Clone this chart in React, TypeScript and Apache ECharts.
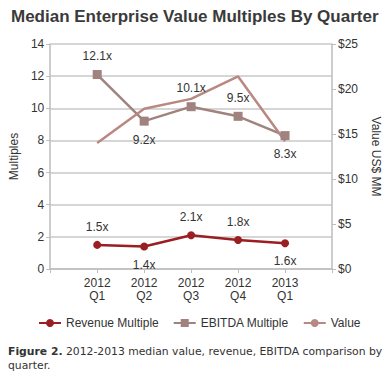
import React, { useEffect, useRef } from "react";
import * as echarts from "echarts";

const categories = ["", "2012\nQ1", "2012\nQ2", "2012\nQ3", "2012\nQ4", "2013\nQ1", ""];
const revenueMultiple = [null, 1.5, 1.4, 2.1, 1.8, 1.6, null];
const ebitdaMultiple = [null, 12.1, 9.2, 10.1, 9.5, 8.3, null];
const valueMM = [null, 14.0, 17.8, 18.9, 21.4, 14.2, null];
const leftTicks = { min: 0, max: 14, interval: 2 };
const rightTicks = { min: 0, max: 25, interval: 5 };

const revenueBelow = [false, false, true, false, false, true, false];
const ebitdaBelow = [false, false, true, false, false, true, false];

const FONT = "Liberation Sans, Arial, sans-serif";

export default function App() {
  const ref = useRef<HTMLDivElement>(null);
  useEffect(() => {
    if (!ref.current) return;
    const chart = echarts.init(ref.current, null, { renderer: "svg" });
    const mk = (vals: (number | null)[], below: boolean[]) =>
      vals.map((v, i) =>
        v === null
          ? null
          : {
              value: v,
              label: { position: below[i] ? "bottom" : "top" },
            }
      );
    const labelStyle = {
      show: true,
      formatter: (p: any) => p.value.toFixed(1) + "x",
      color: "#333",
      fontSize: 12,
      fontFamily: FONT,
      distance: 8,
    };
    chart.setOption({
      animation: false,
      textStyle: { fontFamily: FONT },
      grid: { left: 49, right: 56, top: 44, bottom: 111 },
      title: {
        text: "Median Enterprise Value Multiples By Quarter",
        left: 6,
        top: 3,
        textStyle: { fontSize: 17, fontWeight: "bold", color: "#3a3a3a", fontFamily: FONT },
      },
      legend: {
        bottom: 46,
        left: 33,
        itemWidth: 22,
        itemHeight: 10,
        itemGap: 14,
        textStyle: { fontSize: 12, color: "#333", fontFamily: FONT },
        data: ["Revenue Multiple", "EBITDA Multiple", "Value"],
      },
      xAxis: {
        type: "category",
        data: categories,
        boundaryGap: false,
        axisLine: { lineStyle: { color: "#bdbdbd", width: 1.5 } },
        axisTick: { show: true, length: 4, lineStyle: { color: "#bdbdbd" } },
        axisLabel: { color: "#333", fontSize: 12, fontFamily: FONT, lineHeight: 13, margin: 7, interval: 0 },
      },
      yAxis: [
        {
          type: "value",
          ...leftTicks,
          name: "Multiples",
          nameLocation: "middle",
          nameGap: 28,
          nameTextStyle: { color: "#333", fontSize: 12, fontFamily: FONT },
          axisLine: { show: true, lineStyle: { color: "#bdbdbd", width: 1.5 } },
          axisTick: { show: true, length: 4, lineStyle: { color: "#bdbdbd" } },
          axisLabel: { color: "#333", fontSize: 12, fontFamily: FONT, margin: 6 },
          splitLine: { lineStyle: { color: "#c8c8c8", width: 1.5 } },
        },
        {
          type: "value",
          ...rightTicks,
          position: "right",
          name: "Value US$ MM",
          nameLocation: "middle",
          nameRotate: -90,
          nameGap: 38,
          nameTextStyle: { color: "#333", fontSize: 12, fontFamily: FONT },
          axisLine: { show: true, lineStyle: { color: "#bdbdbd", width: 1.5 } },
          axisTick: { show: true, length: 4, lineStyle: { color: "#bdbdbd" } },
          axisLabel: { color: "#333", fontSize: 12, fontFamily: FONT, margin: 6, formatter: "${value}" },
          splitLine: { show: false },
        },
      ],
      series: [
        {
          name: "Revenue Multiple",
          type: "line",
          yAxisIndex: 0,
          data: mk(revenueMultiple, revenueBelow),
          symbol: "circle",
          symbolSize: 8,
          color: "#9a1e22",
          lineStyle: { width: 2.5, color: "#9a1e22" },
          itemStyle: { color: "#9a1e22" },
          label: labelStyle,
        },
        {
          name: "EBITDA Multiple",
          type: "line",
          yAxisIndex: 0,
          data: mk(ebitdaMultiple, ebitdaBelow),
          symbol: "rect",
          symbolSize: 9,
          color: "#a0827e",
          lineStyle: { width: 2.5, color: "#a0827e" },
          itemStyle: { color: "#a0827e" },
          label: labelStyle,
        },
        {
          name: "Value",
          type: "line",
          yAxisIndex: 1,
          data: valueMM,
          symbol: "none",
          color: "#b88982",
          lineStyle: { width: 2.5, color: "#b88982" },
        },
      ],
      graphic: [
        {
          type: "text",
          left: 8,
          top: 344,
          style: {
            text: "{b|Figure 2.} 2012-2013 median value, revenue, EBITDA comparison by\nquarter.",
            font: "10.8px 'DejaVu Sans', Verdana, sans-serif",
            fill: "#333",
            lineHeight: 14,
            rich: {
              b: { fontWeight: "bold", fontSize: 10.8, fontFamily: "DejaVu Sans, Verdana, sans-serif", fill: "#333" },
            },
          },
        },
      ],
    });
    return () => chart.dispose();
  }, []);
  return <div ref={ref} style={{ width: 390, height: 380, position: "absolute", left: 0, top: 0 }} />;
}
